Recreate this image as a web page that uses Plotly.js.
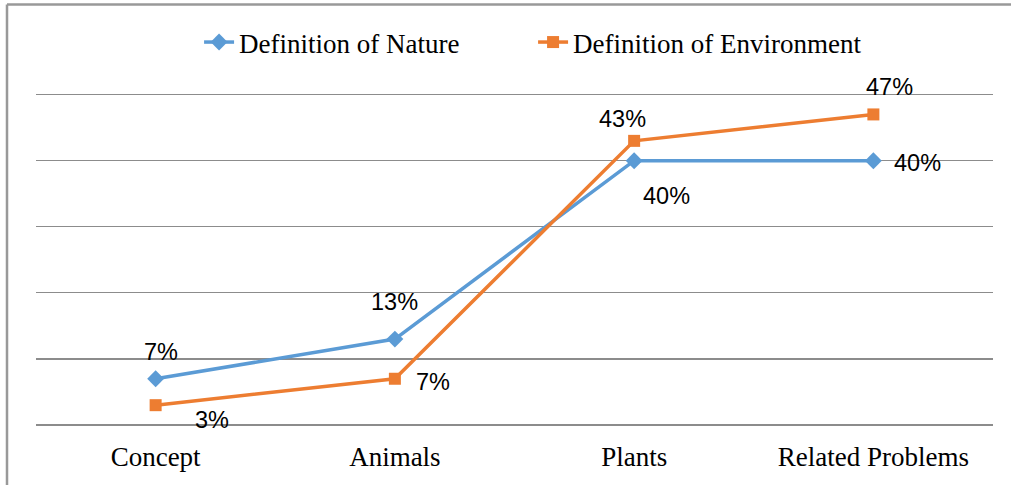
<!DOCTYPE html>
<html>
<head>
<meta charset="utf-8">
<script src="https://cdn.plot.ly/plotly-3.0.1.min.js"></script>
<style>
html,body{margin:0;padding:0;background:#fff;}
#chart{width:1011px;height:485px;}
</style>
</head>
<body>
<div id="chart"></div>
<script>
const categories = ["Concept", "Animals", "Plants", "Related Problems"];
const natureValues = [7, 13, 40, 40];
const environmentValues = [3, 7, 43, 47];
const seriesNames = ["Definition of Nature", "Definition of Environment"];

// label offsets (style only)
const natureShift = [[5, 27], [0, 37], [32, -35], [44, -2]];
const envShift = [[56, -15], [38, -3], [-12, 22], [16, 27]];

const labelFont = {family: "Liberation Sans, Arial, sans-serif", size: 23.5, color: "#000"};
const serifFont = "Liberation Serif, Times New Roman, serif";

function labels(vals, shifts) {
  return vals.map((v, i) => ({
    x: categories[i], y: v, xref: "x", yref: "y",
    text: v + "%", showarrow: false,
    xshift: shifts[i][0], yshift: shifts[i][1],
    font: labelFont
  }));
}

const traces = [
  {
    x: categories, y: natureValues, name: seriesNames[0],
    type: "scatter", mode: "lines+markers",
    line: {color: "#5B9BD5", width: 3.5},
    marker: {symbol: "diamond", size: 13, color: "#5B9BD5"}
  },
  {
    x: categories, y: environmentValues, name: seriesNames[1],
    type: "scatter", mode: "lines+markers",
    line: {color: "#ED7D31", width: 3.5},
    marker: {symbol: "square", size: 12, color: "#ED7D31"}
  }
];

const layout = {
  width: 1011, height: 485,
  margin: {l: 36, r: 18, t: 88.4, b: 60},
  paper_bgcolor: "#fff", plot_bgcolor: "#fff",
  showlegend: true,
  legend: {
    orientation: "h", x: 0.1704, xanchor: "left", y: 1.135, yanchor: "middle",
    font: {family: serifFont, size: 27, color: "#000"},
    entrywidth: 289, entrywidthmode: "pixels", traceorder: "normal"
  },
  xaxis: {
    type: "category", range: [-0.5, 3.5],
    showgrid: false, zeroline: false, showline: false, ticks: "",
    tickfont: {family: serifFont, size: 27, color: "#000"},
    ticklabelstandoff: 13
  },
  yaxis: {
    range: [0, 51], dtick: 10, showticklabels: false,
    showgrid: true, gridcolor: "#8c8c8c", gridwidth: 1.3,
    zeroline: true, zerolinecolor: "#8c8c8c", zerolinewidth: 1.3,
    showline: false, ticks: "", fixedrange: true
  },
  annotations: labels(natureValues, natureShift).concat(labels(environmentValues, envShift)),
  shapes: [
    {type: "line", xref: "paper", yref: "paper", x0: -0.0303, x1: 1.05, y0: 1.248, y1: 1.248,
     line: {color: "#999", width: 2.5}},
    {type: "line", xref: "paper", yref: "paper", x0: -0.0303, x1: -0.0303, y0: 1.248, y1: -0.3,
     line: {color: "#999", width: 2.5}}
  ]
};

Plotly.newPlot("chart", traces, layout, {displayModeBar: false, staticPlot: true});
</script>
</body>
</html>
